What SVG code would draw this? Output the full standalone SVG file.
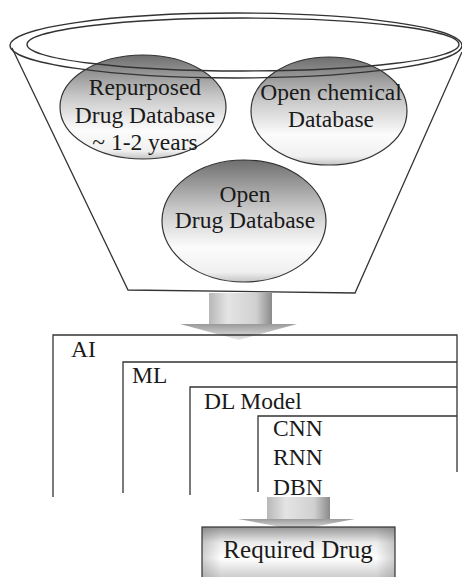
<svg xmlns="http://www.w3.org/2000/svg" width="462" height="577" viewBox="0 0 462 577">
<defs>
<linearGradient id="ell" x1="0" y1="0" x2="0" y2="1">
<stop offset="0" stop-color="#6e6e6e"/>
<stop offset="0.4" stop-color="#c8c8c8"/>
<stop offset="0.72" stop-color="#fcfcfc"/>
<stop offset="0.92" stop-color="#f0f0f0"/>
<stop offset="1" stop-color="#c4c4c4"/>
</linearGradient>
<linearGradient id="arr" x1="0" y1="0" x2="1" y2="0">
<stop offset="0" stop-color="#b8b8b8"/>
<stop offset="0.3" stop-color="#e4e4e4"/>
<stop offset="0.75" stop-color="#d0d0d0"/>
<stop offset="1" stop-color="#8a8a8a"/>
</linearGradient>
<linearGradient id="head" x1="0" y1="0" x2="0" y2="1">
<stop offset="0" stop-color="#9a9a9a"/>
<stop offset="1" stop-color="#e8e8e8"/>
</linearGradient>
<linearGradient id="box" x1="0" y1="0" x2="0" y2="1">
<stop offset="0" stop-color="#959595"/>
<stop offset="0.3" stop-color="#ececec"/>
<stop offset="0.6" stop-color="#ffffff"/>
<stop offset="1" stop-color="#c8c8c8"/>
</linearGradient>
<linearGradient id="boxh" x1="0" y1="0" x2="1" y2="0">
<stop offset="0" stop-color="#777" stop-opacity="0.35"/>
<stop offset="0.1" stop-color="#777" stop-opacity="0"/>
<stop offset="0.9" stop-color="#777" stop-opacity="0"/>
<stop offset="1" stop-color="#777" stop-opacity="0.35"/>
</linearGradient>
</defs>
<style>
.t{font-family:"Liberation Serif","Times New Roman",serif;font-size:23.5px;fill:#1a1a1a}
.m{text-anchor:middle}
.ln{fill:none;stroke:#333;stroke-width:1.3}
.el{stroke:#333;stroke-width:1.2}
</style>
<rect width="462" height="577" fill="#fff"/>
<g id="funnel">
<polyline class="ln" points="12,48 128,290 355,293 462,52"/>
</g>
<g id="repurposed">
<ellipse class="el" fill="url(#ell)" cx="143" cy="107" rx="83" ry="52"/>
<text class="t m" x="145" y="95">Repurposed</text>
<text class="t m" x="145" y="123">Drug Database</text>
<text class="t m" x="145" y="150">~ 1-2 years</text>
</g>
<g id="chemical">
<ellipse class="el" fill="url(#ell)" cx="329" cy="111" rx="78" ry="54"/>
<text class="t m" x="331" y="100">Open chemical</text>
<text class="t m" x="331" y="127">Database</text>
</g>
<g id="opendrug">
<ellipse class="el" fill="url(#ell)" cx="244" cy="221" rx="82" ry="61"/>
<text class="t m" x="245" y="202">Open</text>
<text class="t m" x="245" y="228">Drug Database</text>
</g>
<g id="rim">
<ellipse class="ln" cx="236" cy="45.5" rx="226" ry="32.5"/>
<ellipse class="ln" cx="243" cy="44.5" rx="216" ry="26.5"/>
</g>
<g id="connectors">
<g id="arrow1">
<rect x="209" y="293" width="63" height="31" fill="url(#arr)"/>
<polygon points="180,324 297,324 239,340" fill="url(#head)"/>
</g>
<g id="arrow2">
<rect x="267" y="497" width="63" height="23" fill="url(#arr)"/>
<polygon points="238,519 355,519 297,530" fill="url(#head)"/>
</g>
</g>
<g id="ai">
<polyline class="ln" points="53,497 53,335 457,335 457,472"/>
<text class="t" x="71" y="357">AI</text>
</g>
<g id="ml">
<polyline class="ln" points="123,493 123,362 457,362"/>
<text class="t" x="132" y="383">ML</text>
</g>
<g id="dl">
<polyline class="ln" points="190,495 190,387 457,387"/>
<text class="t" x="204" y="409">DL Model</text>
</g>
<g id="nets">
<polyline class="ln" points="258,492 258,416 457,416"/>
<text class="t" x="273" y="436">CNN</text>
<text class="t" x="273" y="465">RNN</text>
<text class="t" x="273" y="495">DBN</text>
</g>
<g id="required">
<rect x="202" y="527" width="193" height="52" fill="url(#box)"/>
<rect x="202" y="527" width="193" height="52" fill="url(#boxh)" stroke="#333" stroke-width="1.2"/>
<text class="t m" x="298" y="558" style="font-size:25px">Required Drug</text>
</g>
</svg>
